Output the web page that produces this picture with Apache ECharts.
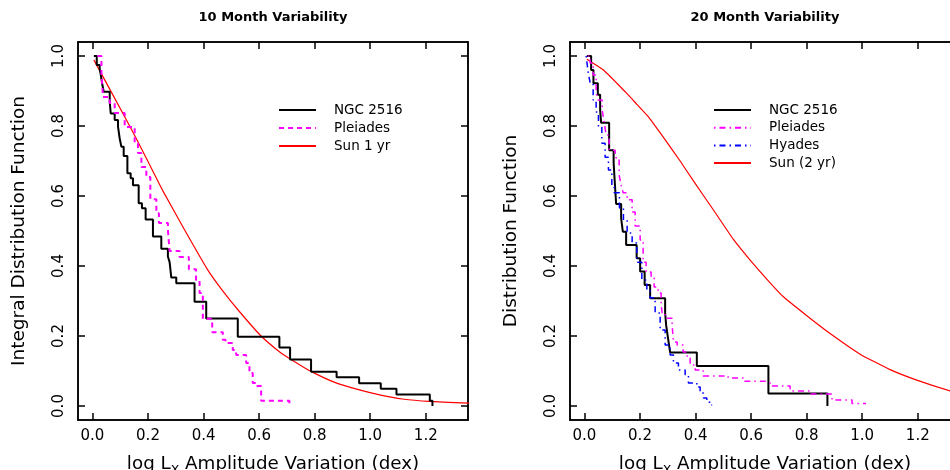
<!DOCTYPE html>
<html>
<head>
<meta charset="utf-8">
<script src="https://cdn.jsdelivr.net/npm/echarts@6/dist/echarts.min.js"></script>
<style>html,body{margin:0;padding:0;background:#fff;}#c{width:950px;height:470px;}</style>
</head>
<body>
<div id="c"></div>
<script>
// ---- data ----
const xTicks = [0, 0.2, 0.4, 0.6, 0.8, 1.0, 1.2];
const yTicks = [0, 0.2, 0.4, 0.6, 0.8, 1.0];

// Left panel: 10 Month Variability
const ngcL_x = [0.005,0.0155,0.026,0.030,0.0345,0.0406,0.0622,0.0658,0.0801,0.092,0.098,0.104,0.1125,0.1258,0.1376,0.1459,0.1664,0.1782,0.1915,0.2178,0.2479,0.2716,0.2778,0.2839,0.3018,0.3676,0.4096,0.5232,0.673,0.7115,0.787,0.879,0.960,1.038,1.0945,1.2145,1.224];
const ngcL_y = [1.0,0.974,0.963,0.946,0.923,0.898,0.869,0.836,0.817,0.798,0.765,0.741,0.714,0.665,0.651,0.631,0.579,0.565,0.533,0.484,0.449,0.427,0.411,0.367,0.351,0.298,0.25,0.198,0.167,0.133,0.098,0.082,0.065,0.049,0.033,0.015,0.0];

const pleL_x = [0.018,0.0323,0.0381,0.0622,0.0801,0.1161,0.152,0.1639,0.1761,0.194,0.2084,0.23,0.2393,0.2716,0.2778,0.3137,0.3471,0.373,0.3856,0.3974,0.4312,0.4693,0.479,0.5052,0.5174,0.5534,0.5652,0.5771,0.5893,0.6073,0.709];
const pleL_y = [1.0,0.951,0.883,0.866,0.837,0.797,0.751,0.723,0.683,0.654,0.591,0.551,0.523,0.503,0.443,0.426,0.391,0.36,0.323,0.249,0.211,0.189,0.18,0.16,0.146,0.123,0.094,0.066,0.057,0.015,0.0];

const sun1_x = [0.005,0.134,0.194,0.254,0.332,0.415,0.469,0.529,0.607,0.673,0.709,0.787,0.877,0.961,1.038,1.116,1.212,1.356];
const sun1_y = [0.989,0.80,0.708,0.614,0.503,0.389,0.329,0.270,0.200,0.155,0.136,0.099,0.066,0.046,0.031,0.020,0.013,0.008];

// Right panel: 20 Month Variability
const ngcR_x = [0.0086,0.0241,0.0324,0.0482,0.0565,0.0601,0.0889,0.1051,0.108,0.1141,0.1321,0.1382,0.1501,0.1879,0.2005,0.2167,0.2365,0.2905,0.2941,0.3013,0.3085,0.4046,0.6623,0.8747];
const ngcR_y = [1.0,0.96,0.922,0.889,0.846,0.809,0.731,0.694,0.655,0.577,0.537,0.498,0.46,0.422,0.384,0.346,0.308,0.266,0.231,0.191,0.153,0.114,0.036,0.0];

const pleR_x = [0.0122,0.0205,0.0313,0.0421,0.0493,0.0637,0.0709,0.0781,0.0889,0.1105,0.1249,0.1321,0.1393,0.1537,0.1717,0.1825,0.2005,0.2113,0.2221,0.2401,0.2509,0.2653,0.2761,0.2797,0.2905,0.3157,0.3204,0.3337,0.3553,0.3697,0.3805,0.3985,0.4273,0.5173,0.5713,0.6505,0.6685,0.7405,0.8121,0.8913,0.9633,1.0137];
const pleR_y = [1.0,0.98,0.946,0.894,0.874,0.846,0.811,0.774,0.731,0.709,0.66,0.631,0.609,0.589,0.554,0.514,0.474,0.411,0.383,0.366,0.34,0.323,0.289,0.266,0.251,0.231,0.183,0.174,0.154,0.137,0.117,0.103,0.086,0.08,0.071,0.066,0.057,0.043,0.034,0.017,0.007,0.007];

const hyaR_x = [0.0061,0.0133,0.0205,0.0313,0.0421,0.0504,0.0626,0.0745,0.0864,0.0986,0.1069,0.126,0.1404,0.1537,0.1717,0.1886,0.2066,0.2246,0.2365,0.2545,0.2725,0.2905,0.3085,0.3204,0.3384,0.3625,0.3744,0.4046,0.4165,0.4284,0.4406,0.4525,0.4597];
const hyaR_y = [1.0,0.954,0.923,0.874,0.84,0.797,0.751,0.711,0.674,0.626,0.609,0.566,0.531,0.494,0.466,0.411,0.36,0.331,0.309,0.266,0.217,0.174,0.146,0.123,0.103,0.089,0.066,0.054,0.037,0.023,0.011,0.003,0.003];

const sun2_x = [0.0086,0.0684,0.1465,0.1886,0.2304,0.2966,0.3445,0.3924,0.4644,0.5364,0.5965,0.6685,0.7163,0.8006,0.8845,0.9924,1.1004,1.1965,1.3164,1.36];
const sun2_y = [0.991,0.96,0.898,0.862,0.826,0.754,0.700,0.643,0.560,0.476,0.417,0.352,0.312,0.258,0.207,0.148,0.104,0.074,0.043,0.035];

const titles = ['10 Month Variability', '20 Month Variability'];
const yNames = ['Integral Distribution Function', 'Distribution Function'];
const legendL = ['NGC 2516', 'Pleiades', 'Sun 1 yr'];
const legendR = ['NGC 2516', 'Pleiades', 'Hyades', 'Sun (2 yr)'];

// ---- chart ----
const FF = 'DejaVu Sans';
const XMIN = -0.052, XMAX = 1.352, YMIN = -0.04, YMAX = 1.04;
const zip = (xs, ys) => xs.map((x, i) => [x, ys[i]]);
const fmt = v => Number(v).toFixed(1);

function xAx(g, pos, labels) {
  return {
    type: 'value', gridIndex: g, position: pos, min: XMIN, max: XMAX,
    splitLine: {show: false}, axisLine: {show: true, onZero: false, lineStyle: {color: '#000', width: 1.5}},
    axisTick: {show: true, inside: true, length: 7, lineStyle: {color: '#000', width: 1.5}, customValues: xTicks},
    axisLabel: labels ? {show: true, customValues: xTicks, formatter: fmt, color: '#000', fontFamily: FF, fontSize: 15, margin: 9} : {show: false},
    name: labels ? '{n|log L}{s|X}{n| Amplitude Variation (dex)}' : '',
    nameLocation: 'middle', nameGap: 35,
    nameTextStyle: {rich: {
      n: {fontFamily: FF, fontSize: 18.3, color: '#000', lineHeight: 19, verticalAlign: 'top'},
      s: {fontFamily: FF, fontSize: 12.5, color: '#000', lineHeight: 12, verticalAlign: 'top', padding: [9, 0, 0, 0]}
    }}
  };
}
function yAx(g, pos, labels, name) {
  return {
    type: 'value', gridIndex: g, position: pos, min: YMIN, max: YMAX,
    splitLine: {show: false}, axisLine: {show: true, onZero: false, lineStyle: {color: '#000', width: 1.5}},
    axisTick: {show: true, inside: true, length: 7, lineStyle: {color: '#000', width: 1.5}, customValues: yTicks},
    axisLabel: labels ? {show: true, customValues: yTicks, formatter: fmt, rotate: 90, color: '#000', fontFamily: FF, fontSize: 15, margin: 11} : {show: false},
    name: labels ? name : '', nameLocation: 'middle', nameGap: 49,
    nameTextStyle: {fontFamily: FF, fontSize: 18.5, color: '#000'}
  };
}
function stepSeries(name, xi, yi, xs, ys, color, width, dash) {
  return {name, type: 'line', xAxisIndex: xi, yAxisIndex: yi, data: zip(xs, ys), step: 'end',
    symbol: 'none', lineStyle: {color, width, type: dash}, itemStyle: {color}, animation: false, z: 3};
}
function curveSeries(name, xi, yi, xs, ys, color, smooth) {
  return {name, type: 'line', xAxisIndex: xi, yAxisIndex: yi, data: zip(xs, ys), smooth,
    symbol: 'none', lineStyle: {color, width: 1.2}, itemStyle: {color}, animation: false, z: 2};
}
const R = ' ';  // right-panel series name suffix (trimmed in legend)
const legendFmt = n => n.trim();
const legStyle = {fontFamily: FF, fontSize: 13.5, color: '#000', lineHeight: 14, padding: [0, 0, 0, 13]};

const option = {
  backgroundColor: '#fff',
  animation: false,
  title: [
    {text: titles[0], left: 273, top: 11, padding: 0, textAlign: 'center', textStyle: {fontFamily: FF, fontSize: 13, fontWeight: 'bold', color: '#000'}},
    {text: titles[1], left: 765, top: 11, padding: 0, textAlign: 'center', textStyle: {fontFamily: FF, fontSize: 13, fontWeight: 'bold', color: '#000'}}
  ],
  grid: [
    {left: 78, top: 42, width: 390, height: 378, show: true, borderColor: '#000', borderWidth: 1.5, backgroundColor: 'transparent', containLabel: false, outerBoundsMode: 'none'},
    {left: 570, top: 42, width: 390, height: 378, show: true, borderColor: '#000', borderWidth: 1.5, backgroundColor: 'transparent', containLabel: false, outerBoundsMode: 'none'}
  ],
  xAxis: [xAx(0, 'bottom', true), xAx(0, 'top', false), xAx(1, 'bottom', true), xAx(1, 'top', false)],
  yAxis: [yAx(0, 'left', true, yNames[0]), yAx(0, 'right', false), yAx(1, 'left', true, yNames[1]), yAx(1, 'right', false)],
  legend: [
    {left: 278, top: 103, padding: 0, orient: 'vertical', itemWidth: 37, itemHeight: 14, itemGap: 4, selectedMode: false,
     itemStyle: {opacity: 0}, data: legendL, formatter: legendFmt, textStyle: legStyle},
    {left: 713, top: 103, padding: 0, orient: 'vertical', itemWidth: 37, itemHeight: 14, itemGap: 3.7, selectedMode: false,
     itemStyle: {opacity: 0}, data: legendR.map(n => n + R), formatter: legendFmt, textStyle: legStyle}
  ],
  series: [
    stepSeries(legendL[0], 0, 0, ngcL_x, ngcL_y, '#000000', 2, 'solid'),
    stepSeries(legendL[1], 0, 0, pleL_x, pleL_y, '#ff00ff', 2, [5, 4]),
    curveSeries(legendL[2], 0, 0, sun1_x, sun1_y, '#ff0000', 0.15),
    stepSeries(legendR[0] + R, 2, 2, ngcR_x, ngcR_y, '#000000', 2, 'solid'),
    stepSeries(legendR[1] + R, 2, 2, pleR_x, pleR_y, '#ff00ff', 1.5, [1.5, 4, 6, 4]),
    stepSeries(legendR[2] + R, 2, 2, hyaR_x, hyaR_y, '#0000ff', 1.5, [1.5, 4, 6, 4]),
    curveSeries(legendR[3] + R, 2, 2, sun2_x, sun2_y, '#ff0000', 0.15)
  ]
};
const chart = echarts.init(document.getElementById('c'), null, {renderer: 'canvas'});
chart.setOption(option);
</script>
</body>
</html>
